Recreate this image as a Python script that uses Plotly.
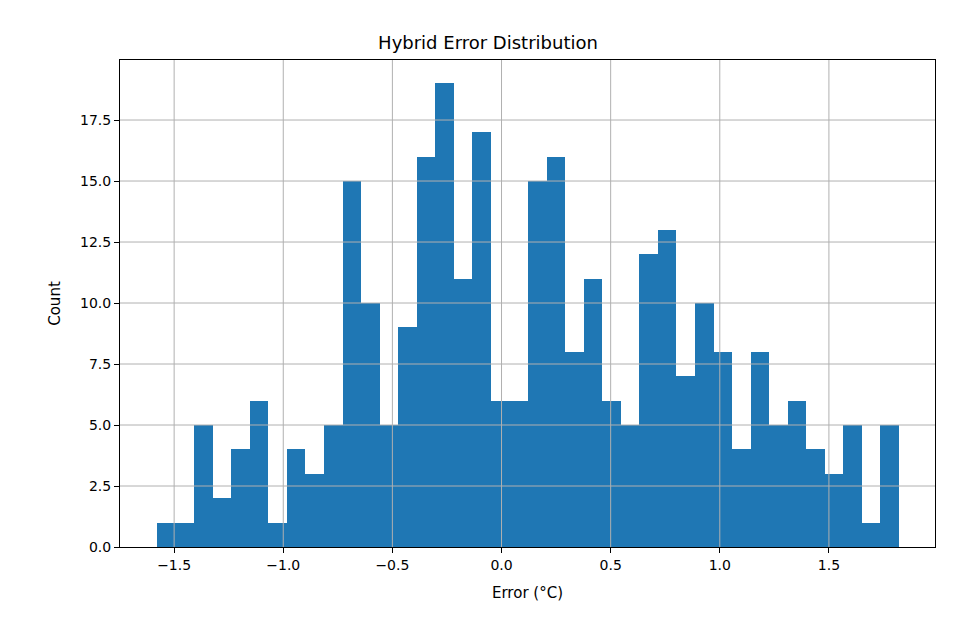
import plotly.graph_objects as go

bin_start = -1.578
bin_width = 0.08498
counts = [1, 1, 5, 2, 4, 6, 1, 4, 3, 5,
          15, 10, 5, 9, 16, 19, 11, 17, 6, 6,
          15, 16, 8, 11, 6, 5, 12, 13, 7, 10,
          8, 4, 8, 5, 6, 4, 3, 5, 1, 5]
x_ticks = [-1.5, -1.0, -0.5, 0.0, 0.5, 1.0, 1.5]
x_labels = ["\u22121.5", "\u22121.0", "\u22120.5", "0.0", "0.5", "1.0", "1.5"]
y_ticks = [0, 2.5, 5, 7.5, 10, 12.5, 15, 17.5]

centers = [bin_start + bin_width * (i + 0.5) for i in range(len(counts))]

fig = go.Figure(go.Bar(x=centers, y=counts, width=bin_width,
                       marker=dict(color="#1f77b4", line=dict(width=0))))

axis_common = dict(showgrid=False, showline=True,
                   linecolor="black", linewidth=1, mirror=True, ticks="outside",
                   ticklen=5, tickcolor="black", zeroline=False,
                   tickfont=dict(size=14, color="black"))

fig.update_xaxes(range=[-1.748, 1.986], tickvals=x_ticks, ticktext=x_labels,
                 title=dict(text="Error (°C)", font=dict(size=15, color="black")), **axis_common)
fig.update_yaxes(range=[0, 19.96], tickvals=y_ticks, tickformat=".1f",
                 title=dict(text="Count", font=dict(size=15, color="black")), **axis_common)

# matplotlib draws its grid over the bars here
grid = dict(color="#b0b0b0", width=1)
for t in x_ticks:
    fig.add_shape(type="line", xref="x", yref="paper", x0=t, x1=t, y0=0, y1=1,
                  line=grid, layer="above")
for t in y_ticks[1:]:
    fig.add_shape(type="line", xref="paper", yref="y", x0=0, x1=1, y0=t, y1=t,
                  line=grid, layer="above")

fig.update_layout(
    width=960, height=640,
    margin=dict(l=112, r=33, t=52, b=101),
    plot_bgcolor="white", paper_bgcolor="white",
    bargap=0, showlegend=False,
    font=dict(family="DejaVu Sans"),
    title=dict(text="Hybrid Error Distribution", x=0.5, xanchor="center", y=0.955,
               font=dict(size=18, color="black")),
)

fig.write_html("out.html")
